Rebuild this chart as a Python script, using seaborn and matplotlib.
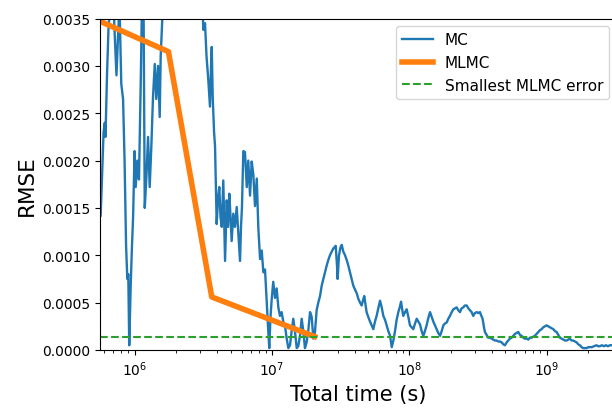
import numpy as np
import pandas as pd
import matplotlib
matplotlib.use('Agg')
import matplotlib.pyplot as plt
import seaborn as sns

# MC running error (log10 of seconds) and RMSE
mc_log10_time = [
    5.752, 5.762, 5.773, 5.782, 5.787, 5.798, 5.809, 5.824, 5.842, 5.854,
    5.867, 5.878, 5.889, 5.902, 5.915, 5.926, 5.937, 5.946, 5.953, 5.960,
    5.971, 5.980, 5.988, 5.999, 6.007, 6.019, 6.031, 6.044, 6.053, 6.064,
    6.073, 6.084, 6.097, 6.109, 6.121, 6.133, 6.146, 6.157, 6.170, 6.182,
    6.189, 6.199, 6.210, 6.330, 6.439, 6.494, 6.500, 6.512, 6.523, 6.536,
    6.548, 6.556, 6.561, 6.568, 6.578, 6.585, 6.597, 6.607, 6.616, 6.625,
    6.634, 6.645, 6.654, 6.658, 6.670, 6.680, 6.689, 6.698, 6.706, 6.718,
    6.730, 6.743, 6.756, 6.767, 6.774, 6.781, 6.791, 6.803, 6.816, 6.827,
    6.840, 6.852, 6.864, 6.876, 6.889, 6.900, 6.913, 6.925, 6.937, 6.949,
    6.961, 6.973, 6.980, 6.989, 6.998, 7.009, 7.022, 7.034, 7.046, 7.058,
    7.070, 7.082, 7.095, 7.107, 7.119, 7.131, 7.143, 7.155, 7.167, 7.180,
    7.191, 7.204, 7.216, 7.228, 7.240, 7.252, 7.264, 7.277, 7.289, 7.301,
    7.313, 7.325, 7.337, 7.350, 7.362, 7.374, 7.386, 7.398, 7.410, 7.422,
    7.435, 7.446, 7.464, 7.473, 7.478, 7.488, 7.498, 7.508, 7.519, 7.532,
    7.544, 7.556, 7.568, 7.580, 7.592, 7.604, 7.617, 7.629, 7.641, 7.653,
    7.662, 7.672, 7.681, 7.689, 7.701, 7.714, 7.726, 7.738, 7.750, 7.762,
    7.774, 7.787, 7.799, 7.811, 7.823, 7.835, 7.847, 7.860, 7.872, 7.884,
    7.896, 7.908, 7.920, 7.932, 7.940, 7.947, 7.956, 7.969, 7.981, 7.993,
    8.005, 8.017, 8.029, 8.042, 8.054, 8.066, 8.078, 8.090, 8.102, 8.114,
    8.126, 8.139, 8.151, 8.163, 8.175, 8.187, 8.199, 8.211, 8.224, 8.236,
    8.248, 8.260, 8.272, 8.284, 8.296, 8.309, 8.321, 8.333, 8.345, 8.357,
    8.369, 8.381, 8.393, 8.405, 8.418, 8.430, 8.442, 8.454, 8.466, 8.478,
    8.491, 8.503, 8.515, 8.522, 8.534, 8.544, 8.551, 8.563, 8.575, 8.588,
    8.600, 8.612, 8.624, 8.636, 8.648, 8.660, 8.673, 8.685, 8.697, 8.709,
    8.721, 8.733, 8.745, 8.757, 8.770, 8.782, 8.794, 8.806, 8.818, 8.830,
    8.842, 8.855, 8.867, 8.879, 8.891, 8.903, 8.915, 8.927, 8.940, 8.952,
    8.964, 8.976, 8.988, 9.000, 9.012, 9.025, 9.037, 9.049, 9.061, 9.073,
    9.085, 9.097, 9.110, 9.122, 9.134, 9.146, 9.158, 9.170, 9.182, 9.194,
    9.207, 9.219, 9.231, 9.243, 9.255, 9.267, 9.279, 9.292, 9.304, 9.316,
    9.330, 9.345, 9.364, 9.376, 9.389, 9.403, 9.418, 9.432, 9.447, 9.461,
    9.483, 9.510,
]
mc_rmse = [
    0.00142, 0.00185, 0.00230, 0.00240, 0.00225, 0.00290, 0.00340, 0.00370, 0.00380, 0.00334,
    0.00290, 0.00330, 0.00365, 0.00281, 0.00265, 0.00200, 0.00110, 0.00075, 0.00080, 0.00005,
    0.00070, 0.00110, 0.00140, 0.00210, 0.00172, 0.00200, 0.00180, 0.00285, 0.00370, 0.00370,
    0.00150, 0.00180, 0.00225, 0.00172, 0.00215, 0.00267, 0.00302, 0.00265, 0.00300, 0.00246,
    0.00310, 0.00345, 0.00380, 0.00450, 0.00420, 0.00360, 0.00338, 0.00345, 0.00310, 0.00285,
    0.00257, 0.00300, 0.00320, 0.00267, 0.00230, 0.00215, 0.00133, 0.00160, 0.00172, 0.00140,
    0.00130, 0.00179, 0.00120, 0.00094, 0.00158, 0.00130, 0.00165, 0.00140, 0.00115, 0.00144,
    0.00130, 0.00151, 0.00120, 0.00094, 0.00130, 0.00150, 0.00210, 0.00209, 0.00172, 0.00200,
    0.00163, 0.00199, 0.00185, 0.00152, 0.00181, 0.00130, 0.00096, 0.00105, 0.00082, 0.00085,
    0.00051, 0.00019, 0.00002, 0.00035, 0.00054, 0.00072, 0.00055, 0.00065, 0.00045, 0.00036,
    0.00040, 0.00030, 0.00025, 0.00012, 0.00002, 0.00005, 0.00020, 0.00033, 0.00020, 0.00002,
    0.00004, 0.00015, 0.00033, 0.00020, 0.00002, 0.00008, 0.00020, 0.00040, 0.00035, 0.00012,
    0.00019, 0.00042, 0.00050, 0.00057, 0.00068, 0.00075, 0.00082, 0.00089, 0.00095, 0.00100,
    0.00104, 0.00107, 0.00110, 0.00090, 0.00075, 0.00100, 0.00108, 0.00111, 0.00104, 0.00100,
    0.00095, 0.00089, 0.00082, 0.00075, 0.00068, 0.00064, 0.00060, 0.00054, 0.00050, 0.00047,
    0.00052, 0.00057, 0.00048, 0.00040, 0.00035, 0.00030, 0.00026, 0.00022, 0.00030, 0.00036,
    0.00044, 0.00052, 0.00045, 0.00036, 0.00032, 0.00026, 0.00020, 0.00015, 0.00003, 0.00010,
    0.00020, 0.00032, 0.00040, 0.00046, 0.00051, 0.00044, 0.00036, 0.00040, 0.00043, 0.00035,
    0.00026, 0.00024, 0.00022, 0.00028, 0.00033, 0.00030, 0.00027, 0.00020, 0.00015, 0.00020,
    0.00026, 0.00034, 0.00040, 0.00035, 0.00030, 0.00026, 0.00022, 0.00018, 0.00015, 0.00020,
    0.00026, 0.00028, 0.00029, 0.00033, 0.00036, 0.00040, 0.00043, 0.00044, 0.00045, 0.00042,
    0.00040, 0.00044, 0.00045, 0.00047, 0.00047, 0.00044, 0.00042, 0.00040, 0.00036, 0.00039,
    0.00040, 0.00039, 0.00040, 0.00037, 0.00033, 0.00024, 0.00019, 0.00016, 0.00013, 0.00013,
    0.00012, 0.00011, 0.00010, 0.00010, 0.00009, 0.00009, 0.00008, 0.00006, 0.00005, 0.00008,
    0.00010, 0.00012, 0.00013, 0.00015, 0.00017, 0.00018, 0.00019, 0.00016, 0.00015, 0.00013,
    0.00012, 0.00012, 0.00011, 0.00013, 0.00013, 0.00014, 0.00015, 0.00017, 0.00019, 0.00021,
    0.00022, 0.00024, 0.00025, 0.00026, 0.00025, 0.00024, 0.00023, 0.00022, 0.00020, 0.00019,
    0.00016, 0.00013, 0.00012, 0.00011, 0.00010, 0.00010, 0.00011, 0.00012, 0.00010, 0.00010,
    0.00009, 0.00008, 0.00006, 0.00005, 0.00003, 0.00002, 0.00002, 0.00002, 0.00003, 0.00003,
    0.00003, 0.00004, 0.00005, 0.00004, 0.00004, 0.00005, 0.00004, 0.00005, 0.00004, 0.00005,
    0.00005, 0.00005,
]

# MLMC cost / error pairs
mlmc_time = [5.6e5, 1.76e6, 3.64e6, 2.04e7]
mlmc_rmse = [0.00347, 0.00315, 0.00056, 0.000142]

mc = pd.DataFrame({'time': 10 ** np.array(mc_log10_time), 'rmse': mc_rmse})
mlmc = pd.DataFrame({'time': mlmc_time, 'rmse': mlmc_rmse})

fig = plt.figure(figsize=(6.12, 4.10), dpi=100)
# right spine sits just past the canvas edge, as in the cropped original
ax = fig.add_axes([100 / 612, 59 / 410, 517 / 612, 331.5 / 410])

sns.lineplot(data=mc, x='time', y='rmse', ax=ax, color='tab:blue', lw=1.7,
             label='MC', estimator=None, sort=False)
sns.lineplot(data=mlmc, x='time', y='rmse', ax=ax, color='tab:orange', lw=4,
             label='MLMC', estimator=None, sort=False)
ax.axhline(min(mlmc_rmse), color='tab:green', ls='--', lw=1.5,
           label='Smallest MLMC error')

ax.set_xscale('log')
ax.set_xlim(10 ** 5.747, 10 ** 9.513)
ax.set_ylim(0, 0.0035)
ax.set_yticks(np.arange(0, 0.00351, 0.0005))
ax.yaxis.set_major_formatter(matplotlib.ticker.FormatStrFormatter('%.4f'))
ax.set_xlabel('Total time (s)', fontsize=15)
ax.set_ylabel('RMSE', fontsize=15.5)
ax.legend(loc='upper right', fontsize=11)

plt.savefig('out.png', dpi=100)
plt.close()
